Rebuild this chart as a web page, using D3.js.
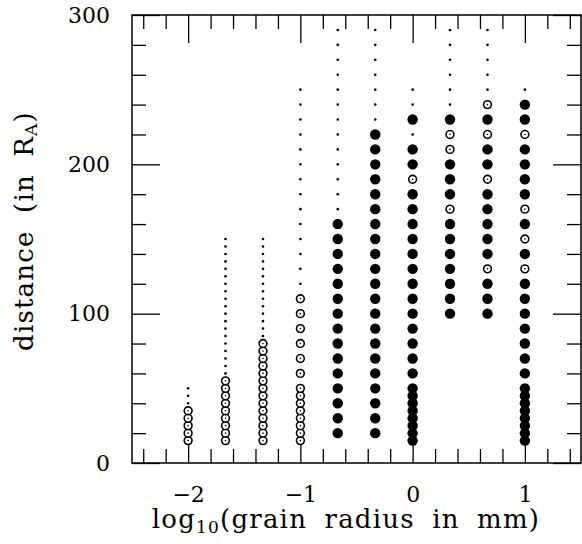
<!DOCTYPE html>
<html>
  <head><meta charset="utf-8"></head>
  <body>
    <script src="https://cdn.jsdelivr.net/npm/d3@7"></script>
    <style>
      body{ margin: 0; background: #fff;}
      svg{ display: block; font-family: "DejaVu Serif", serif;}
      .tick line{ stroke: #000; stroke-width: 1.3;}
      .tick text{ font-family: "DejaVu Serif", serif; font-size: 22px; fill: #000;}
    </style>
    <script>
// log10 of grain radius for each column
var logRadius = [-2, -1.667, -1.333, -1, -0.667, -0.333, 0, 0.333, 0.667, 1]

// distances (R_A) per column, split by marker kind
var filledDist = [
  [],
  [],
  [],
  [],
  [20, 30, 40, 50, 60, 70, 80, 90, 100, 110, 120, 130, 140, 150, 160],
  [20, 30, 40, 50, 60, 70, 80, 90, 100, 110, 120, 130, 140, 150, 160, 170, 180, 190, 200, 210, 220],
  [15, 20, 25, 30, 35, 40, 45, 50, 60, 70, 80, 90, 100, 110, 120, 130, 140, 150, 160, 170, 180, 200, 210, 230],
  [100, 110, 120, 130, 140, 150, 160, 180, 190, 200, 230],
  [100, 110, 120, 140, 150, 160, 170, 180, 200, 210, 230],
  [15, 20, 25, 30, 35, 40, 45, 50, 60, 70, 80, 90, 100, 110, 120, 140, 160, 180, 190, 200, 210, 230, 240]
]
var openDist = [
  [15, 20, 25, 30, 35],
  [15, 20, 25, 30, 35, 40, 45, 50, 55],
  [15, 20, 25, 30, 35, 40, 45, 50, 55, 60, 65, 70, 75, 80],
  [15, 20, 25, 30, 35, 40, 45, 50, 60, 70, 80, 90, 100, 110],
  [],
  [],
  [190],
  [170, 210, 220],
  [130, 190, 220, 240],
  [130, 150, 170, 220]
]
var dotDist = [
  [40, 45, 50],
  [60, 65, 70, 75, 80, 85, 90, 95, 100, 105, 110, 115, 120, 125, 130, 135, 140, 145, 150],
  [85, 90, 95, 100, 105, 110, 115, 120, 125, 130, 135, 140, 145, 150],
  [120, 130, 140, 150, 160, 170, 180, 190, 200, 210, 220, 230, 240, 250],
  [170, 180, 190, 200, 210, 220, 230, 240, 250, 260, 270, 280, 290],
  [230, 240, 250, 260, 270, 280, 290],
  [220, 240, 250],
  [240, 250, 260, 270, 280, 290],
  [250, 260, 270, 280, 290],
  [250]
]

var xMajor = [-2, -1, 0, 1]
var xMinor = [-2.4, -2.2, -1.8, -1.6, -1.4, -1.2, -0.8, -0.6, -0.4, -0.2,
  0.2, 0.4, 0.6, 0.8, 1.2, 1.4]
var yMajor = [0, 100, 200, 300]
var yMinor = [20, 40, 60, 80, 120, 140, 160, 180, 220, 240, 260, 280]

var width = 582, height = 544
var x = d3.scaleLinear().domain([-2.5, 1.5]).range([132, 581])
var y = d3.scaleLinear().domain([0, 300]).range([463, 15])

var svg = d3.select('body').append('svg')
  .attr('width', width).attr('height', height)

function pts(arr, kind){
  return arr.flatMap(function(ds, i){
    return ds.map(function(d){ return {x: logRadius[i], y: d, kind: kind} })
  })
}

// axes: long major ticks and short minor ticks, all pointing inward
function addAxis(axis, tx, ty, vals, size, labels){
  var g = svg.append('g').attr('transform', 'translate(' + tx + ',' + ty + ')')
    .call(axis.tickValues(vals).tickSize(-size)
      .tickFormat(labels ? d3.format('d') : ''))
  g.select('.domain').remove()
  return g
}
var bx = addAxis(d3.axisBottom(x), 0, 463, xMajor, 28, true)
bx.selectAll('text').attr('y', 23).attr('dy', '0.71em')
addAxis(d3.axisBottom(x), 0, 463, xMinor, 14, false)
addAxis(d3.axisTop(x), 0, 15, xMajor, 28, false)
addAxis(d3.axisTop(x), 0, 15, xMinor, 14, false)
var ly = addAxis(d3.axisLeft(y), 132, 0, yMajor, 28, true)
ly.selectAll('text').attr('x', -22)
addAxis(d3.axisLeft(y), 132, 0, yMinor, 14, false)
addAxis(d3.axisRight(y), 581, 0, yMajor, 28, false)
addAxis(d3.axisRight(y), 581, 0, yMinor, 14, false)

svg.append('rect')
  .attr('x', x(-2.5)).attr('y', y(300))
  .attr('width', x(1.5) - x(-2.5)).attr('height', y(0) - y(300))
  .attr('fill', 'none').attr('stroke', '#000').attr('stroke-width', 1.5)

// markers
var marks = svg.append('g')
marks.selectAll('.dot').data(pts(dotDist, 'dot')).enter().append('circle')
  .attr('cx', function(d){ return x(d.x) }).attr('cy', function(d){ return y(d.y) })
  .attr('r', 1.3).attr('fill', '#000')
marks.selectAll('.filled').data(pts(filledDist, 'filled')).enter().append('circle')
  .attr('cx', function(d){ return x(d.x) }).attr('cy', function(d){ return y(d.y) })
  .attr('r', 5.2).attr('fill', '#000')
var open = marks.selectAll('.open').data(pts(openDist, 'open')).enter().append('g')
  .attr('transform', function(d){ return 'translate(' + x(d.x) + ',' + y(d.y) + ')' })
open.append('circle').attr('r', 3.9).attr('fill', '#fff')
  .attr('stroke', '#000').attr('stroke-width', 1.6)
open.append('circle').attr('r', 0.8).attr('fill', '#000')

// axis titles
var xt = svg.append('text').attr('x', 346).attr('y', 528)
  .attr('text-anchor', 'middle').attr('font-size', 26)
  .attr('word-spacing', 8).attr('letter-spacing', 1.2)
xt.append('tspan').text('log')
xt.append('tspan').text('10').attr('font-size', 17).attr('dy', 5)
xt.append('tspan').text('(grain radius in mm)').attr('dy', -5)

var yt = svg.append('text').attr('transform', 'translate(33,231) rotate(-90)')
  .attr('text-anchor', 'middle').attr('font-size', 26)
  .attr('word-spacing', 8).attr('letter-spacing', 1.2)
yt.append('tspan').text('distance (in R')
yt.append('tspan').text('A').attr('font-size', 17).attr('dy', 4)
yt.append('tspan').text(')').attr('dy', -4)
    </script>
  </body>
</html>
